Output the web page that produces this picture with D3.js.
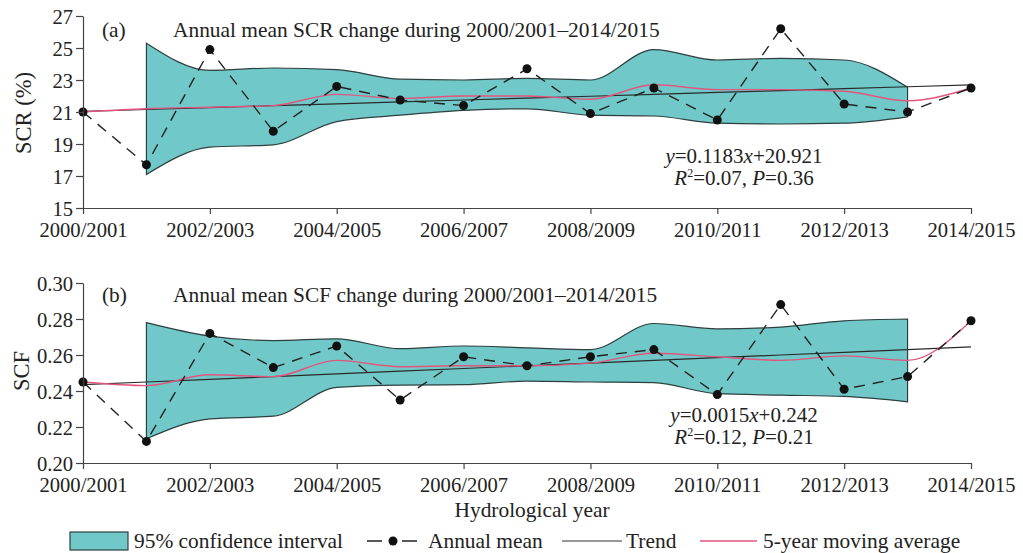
<!DOCTYPE html>
<html lang="en">
<head>
<meta charset="UTF-8">
<title>Annual mean SCR and SCF change</title>
<script src="https://d3js.org/d3.v7.min.js"></script>
<style>
  body { margin: 0; background: #fff; }
  svg text { font-family: "Liberation Serif", "Times New Roman", serif; fill: #222; }
</style>
</head>
<body>
<script>
// hydrological years
const years = ["2000/2001", "2001/2002", "2002/2003", "2003/2004", "2004/2005",
  "2005/2006", "2006/2007", "2007/2008", "2008/2009", "2009/2010",
  "2010/2011", "2011/2012", "2012/2013", "2013/2014", "2014/2015"];
const tickYears = ["2000/2001", "2002/2003", "2004/2005", "2006/2007",
  "2008/2009", "2010/2011", "2012/2013", "2014/2015"];

// (a) SCR (%)
const scrMean = [21.0, 17.7, 24.9, 19.8, 22.6, 21.75, 21.4, 23.7, 20.9, 22.5, 20.5, 26.2, 21.5, 21.0, 22.5];
const scrMA   = [21.0, 21.2, 21.3, 21.4, 22.1, 21.85, 22.0, 22.0, 21.8, 22.7, 22.4, 22.4, 22.3, 21.7, 22.5];
// confidence band, 2001/2002 .. 2013/2014
const scrUpper = [25.3, 23.6, 23.75, 23.65, 23.05, 23.0, 23.1, 23.0, 24.9, 24.25, 24.35, 24.25, 22.55];
const scrLower = [17.1, 18.8, 18.95, 20.4, 20.8, 21.1, 21.2, 20.8, 20.75, 20.3, 20.25, 20.3, 20.7];
const scrTrend = {slope: 0.1183, intercept: 20.921};
const scrTicks = [15, 17, 19, 21, 23, 25, 27];

// (b) SCF
const scfMean = [0.245, 0.212, 0.272, 0.253, 0.265, 0.235, 0.259, 0.254, 0.259, 0.263, 0.238, 0.288, 0.241, 0.248, 0.279];
const scfMA   = [0.245, 0.243, 0.249, 0.248, 0.257, 0.2535, 0.254, 0.254, 0.2555, 0.261, 0.259, 0.257, 0.2595, 0.257, 0.279];
const scfUpper = [0.278, 0.2705, 0.268, 0.269, 0.2635, 0.265, 0.264, 0.263, 0.2775, 0.2745, 0.2755, 0.279, 0.28];
const scfLower = [0.2135, 0.2245, 0.226, 0.242, 0.2433, 0.2435, 0.2455, 0.245, 0.2446, 0.2385, 0.2377, 0.237, 0.234];
const scfTrend = {slope: 0.0015, intercept: 0.242};
const scfTicks = [0.20, 0.22, 0.24, 0.26, 0.28, 0.30];

const bandStart = 1; // band begins at 2001/2002

const width = 1023, height = 553;
const fill = "#70c9c8", edge = "#2f3f3f", pink = "#e2557e";
const fs = 21.4;

const svg = d3.select("body").append("svg")
    .attr("width", width)
    .attr("height", height);

const x = d3.scalePoint().domain(years).range([83, 971]);

function panel(cfg) {
  const y = d3.scaleLinear().domain(cfg.domain).range(cfg.range);
  const g = svg.append("g");

  // confidence band
  const band = cfg.upper.map((u, i) => ({yr: years[i + bandStart], u, l: cfg.lower[i]}));
  g.append("path")
      .datum(band)
      .attr("fill", fill)
      .attr("stroke", edge)
      .attr("stroke-width", 1.2)
      .attr("d", d3.area()
          .x(d => x(d.yr))
          .y0(d => y(d.l))
          .y1(d => y(d.u))
          .curve(d3.curveMonotoneX));

  // trend
  g.append("path")
      .datum(years)
      .attr("fill", "none")
      .attr("stroke", "#2a2a2a")
      .attr("stroke-width", 1.2)
      .attr("d", d3.line()
          .x(d => x(d))
          .y((d, i) => y(cfg.trend.slope * (i + 1) + cfg.trend.intercept)));

  // 5-year moving average
  g.append("path")
      .datum(cfg.ma)
      .attr("fill", "none")
      .attr("stroke", pink)
      .attr("stroke-width", 1.4)
      .attr("d", d3.line()
          .x((d, i) => x(years[i]))
          .y(d => y(d))
          .curve(d3.curveMonotoneX));

  // annual mean
  g.append("path")
      .datum(cfg.mean)
      .attr("fill", "none")
      .attr("stroke", "#222")
      .attr("stroke-width", 1.4)
      .attr("stroke-dasharray", "11,8")
      .attr("d", d3.line().x((d, i) => x(years[i])).y(d => y(d)));

  g.append("g")
    .selectAll("circle")
    .data(cfg.mean)
    .join("circle")
      .attr("cx", (d, i) => x(years[i]))
      .attr("cy", d => y(d))
      .attr("r", 4.5)
      .attr("fill", "#111");

  // axes
  const xAxis = g.append("g")
      .attr("transform", `translate(0,${cfg.range[0]})`)
      .call(d3.axisBottom(x).tickValues(tickYears).tickSize(6).tickSizeOuter(0).tickPadding(8));
  const yAxis = g.append("g")
      .attr("transform", "translate(83,0)")
      .call(d3.axisLeft(y).tickValues(cfg.ticks).tickFormat(cfg.format).tickSize(7).tickSizeOuter(0).tickPadding(3));
  [xAxis, yAxis].forEach(a => {
    a.selectAll("path, line").attr("stroke", "#444").attr("stroke-width", 1.2);
    a.selectAll("text").attr("font-size", 20.6).attr("fill", "#222")
      .style("font-family", "'Liberation Serif', 'Times New Roman', serif");
  });
  xAxis.selectAll("text").attr("dy", "0.75em");
  yAxis.selectAll("text").attr("dy", "0.34em");

  // labels
  g.append("text")
      .attr("transform", `translate(${cfg.ylabelX},${cfg.ylabelY}) rotate(-90)`)
      .attr("text-anchor", "middle")
      .attr("font-size", 22.5)
      .text(cfg.ylabel);
  g.append("text")
      .attr("x", 102).attr("y", cfg.titleY)
      .attr("font-size", fs)
      .text(cfg.tag);
  g.append("text")
      .attr("x", 173).attr("y", cfg.titleY)
      .attr("font-size", fs)
      .text(cfg.title);

  const eq = g.append("text")
      .attr("x", 744).attr("y", cfg.eqY)
      .attr("text-anchor", "middle")
      .attr("font-size", 21);
  eq.append("tspan").attr("font-style", "italic").text("y");
  eq.append("tspan").text("=" + cfg.trend.slope + "");
  eq.append("tspan").attr("font-style", "italic").text("x");
  eq.append("tspan").text("+" + cfg.trend.intercept);

  const st = g.append("text")
      .attr("x", 744).attr("y", cfg.eqY + 22)
      .attr("text-anchor", "middle")
      .attr("font-size", 21);
  st.append("tspan").attr("font-style", "italic").text("R");
  st.append("tspan").attr("font-size", 12).attr("dy", -8).text("2");
  st.append("tspan").attr("dy", 8).text("=" + cfg.r2 + ", ");
  st.append("tspan").attr("font-style", "italic").text("P");
  st.append("tspan").text("=" + cfg.p);
}

panel({
  domain: [15, 27], range: [208, 16], ticks: scrTicks, format: d3.format("d"),
  mean: scrMean, ma: scrMA, upper: scrUpper, lower: scrLower, trend: scrTrend,
  ylabel: "SCR (%)", ylabelX: 31, ylabelY: 113, tag: "(a)", titleY: 37,
  title: "Annual mean SCR change during 2000/2001\u20132014/2015",
  eqY: 163, r2: "0.07", p: "0.36"
});

panel({
  domain: [0.20, 0.30], range: [463, 283], ticks: scfTicks, format: d3.format(".2f"),
  mean: scfMean, ma: scfMA, upper: scfUpper, lower: scfLower, trend: scfTrend,
  ylabel: "SCF", ylabelX: 29, ylabelY: 371, tag: "(b)", titleY: 302,
  title: "Annual mean SCF change during 2000/2001\u20132014/2015",
  eqY: 422, r2: "0.12", p: "0.21"
});

// x title
svg.append("text")
    .attr("x", 532).attr("y", 517)
    .attr("text-anchor", "middle")
    .attr("font-size", fs)
    .text("Hydrological year");

// legend
const ly = 541;
const legend = svg.append("g").attr("font-size", fs);
legend.append("rect")
    .attr("x", 70).attr("y", 532).attr("width", 58).attr("height", 18)
    .attr("fill", fill).attr("stroke", edge).attr("stroke-width", 1.2);
legend.append("text").attr("x", 134).attr("y", 548).text("95% confidence interval");

legend.append("line")
    .attr("x1", 367).attr("x2", 417).attr("y1", ly).attr("y2", ly)
    .attr("stroke", "#222").attr("stroke-width", 1.4).attr("stroke-dasharray", "15,20");
legend.append("circle").attr("cx", 393).attr("cy", ly).attr("r", 4.5).attr("fill", "#111");
legend.append("text").attr("x", 428).attr("y", 548).text("Annual mean");

legend.append("line")
    .attr("x1", 562).attr("x2", 622).attr("y1", ly).attr("y2", ly)
    .attr("stroke", "#333").attr("stroke-width", 1.1);
legend.append("text").attr("x", 626).attr("y", 548).text("Trend");

legend.append("line")
    .attr("x1", 700).attr("x2", 757).attr("y1", ly).attr("y2", ly)
    .attr("stroke", pink).attr("stroke-width", 1.4);
legend.append("text").attr("x", 763).attr("y", 548).text("5-year moving average");
</script>
</body>
</html>
